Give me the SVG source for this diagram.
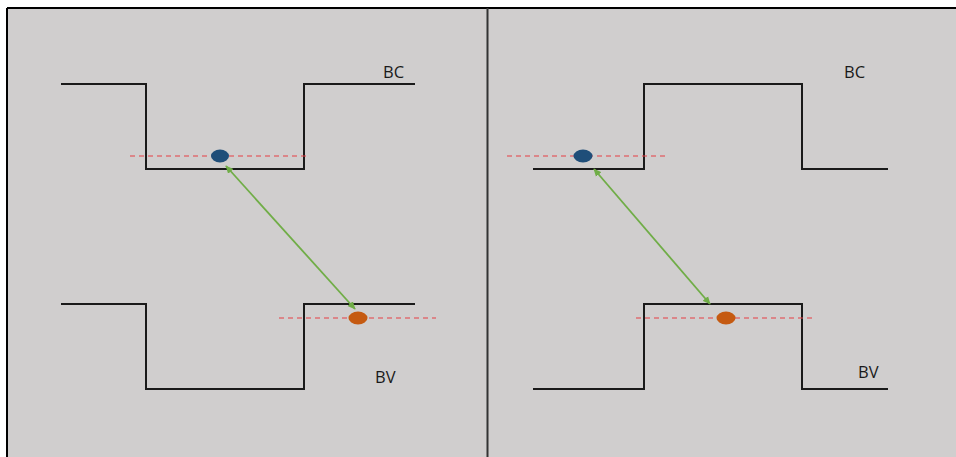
<svg xmlns="http://www.w3.org/2000/svg" width="956" height="457" viewBox="0 0 956 457">
  <defs>
    <style>
      .band { fill: none; stroke: #1a1a1a; stroke-width: 2; }
      .level { stroke: #e53e45; stroke-width: 1.2; stroke-dasharray: 5 4; }
      .trans { stroke: #70ad47; stroke-width: 1.8; fill: none; marker-start: url(#tip); marker-end: url(#tip); }
      .elec { fill: #1f4e79; }
      .hole { fill: #c55a11; }
      .lbl { font-family: "Open Sans", "Liberation Sans", sans-serif; font-size: 16.5px; fill: #1a1a1a; }
    </style>
    <marker id="tip" viewBox="0 0 10 10" refX="9" refY="5" markerWidth="8" markerHeight="8" orient="auto-start-reverse" markerUnits="userSpaceOnUse">
      <path d="M0,0.5 L10,5 L0,9.5 z" fill="#70ad47"/>
    </marker>
  </defs>

  <!-- canvas -->
  <rect x="0" y="0" width="956" height="457" fill="#ffffff"/>
  <rect x="7" y="8" width="949" height="449" fill="#d0cece"/>
  <line x1="7" y1="8" x2="956" y2="8" stroke="#000" stroke-width="2"/>
  <line x1="7" y1="8" x2="7" y2="457" stroke="#000" stroke-width="2"/>
  <line x1="487.5" y1="8" x2="487.5" y2="457" stroke="#333" stroke-width="2"/>

  <!-- left panel: type I alignment -->
  <g id="left-bc">
    <path class="band" d="M61,84 H146 V169 H304 V84 H415"/>
    <text class="lbl" x="383" y="78">BC</text>
  </g>
  <g id="left-bv">
    <path class="band" d="M61,304 H146 V389 H304 V304 H415"/>
    <text class="lbl" x="375" y="383">BV</text>
  </g>
  <g id="left-electron">
    <line class="level" x1="130" y1="156" x2="310" y2="156"/>
    <ellipse class="elec" cx="220" cy="156" rx="9" ry="6.5"/>
  </g>
  <g id="left-hole">
    <line class="level" x1="279" y1="318" x2="436" y2="318"/>
    <ellipse class="hole" cx="358" cy="318" rx="9.5" ry="6.5"/>
  </g>

  <!-- right panel: type II alignment -->
  <g id="right-bc">
    <path class="band" d="M533,169 H644 V84 H802 V169 H888"/>
    <text class="lbl" x="844" y="78">BC</text>
  </g>
  <g id="right-bv">
    <path class="band" d="M533,389 H644 V304 H802 V389 H888"/>
    <text class="lbl" x="858" y="378">BV</text>
  </g>
  <g id="right-electron">
    <line class="level" x1="507" y1="156" x2="665" y2="156"/>
    <ellipse class="elec" cx="583" cy="156" rx="9.5" ry="6.5"/>
  </g>
  <g id="right-hole">
    <line class="level" x1="636" y1="318" x2="816" y2="318"/>
    <ellipse class="hole" cx="726" cy="318" rx="9.5" ry="6.5"/>
  </g>

  <!-- recombination transitions -->
  <g id="connectors">
    <line class="trans" x1="226" y1="166" x2="355" y2="309"/>
    <line class="trans" x1="594" y1="169" x2="710" y2="304"/>
  </g>
</svg>
